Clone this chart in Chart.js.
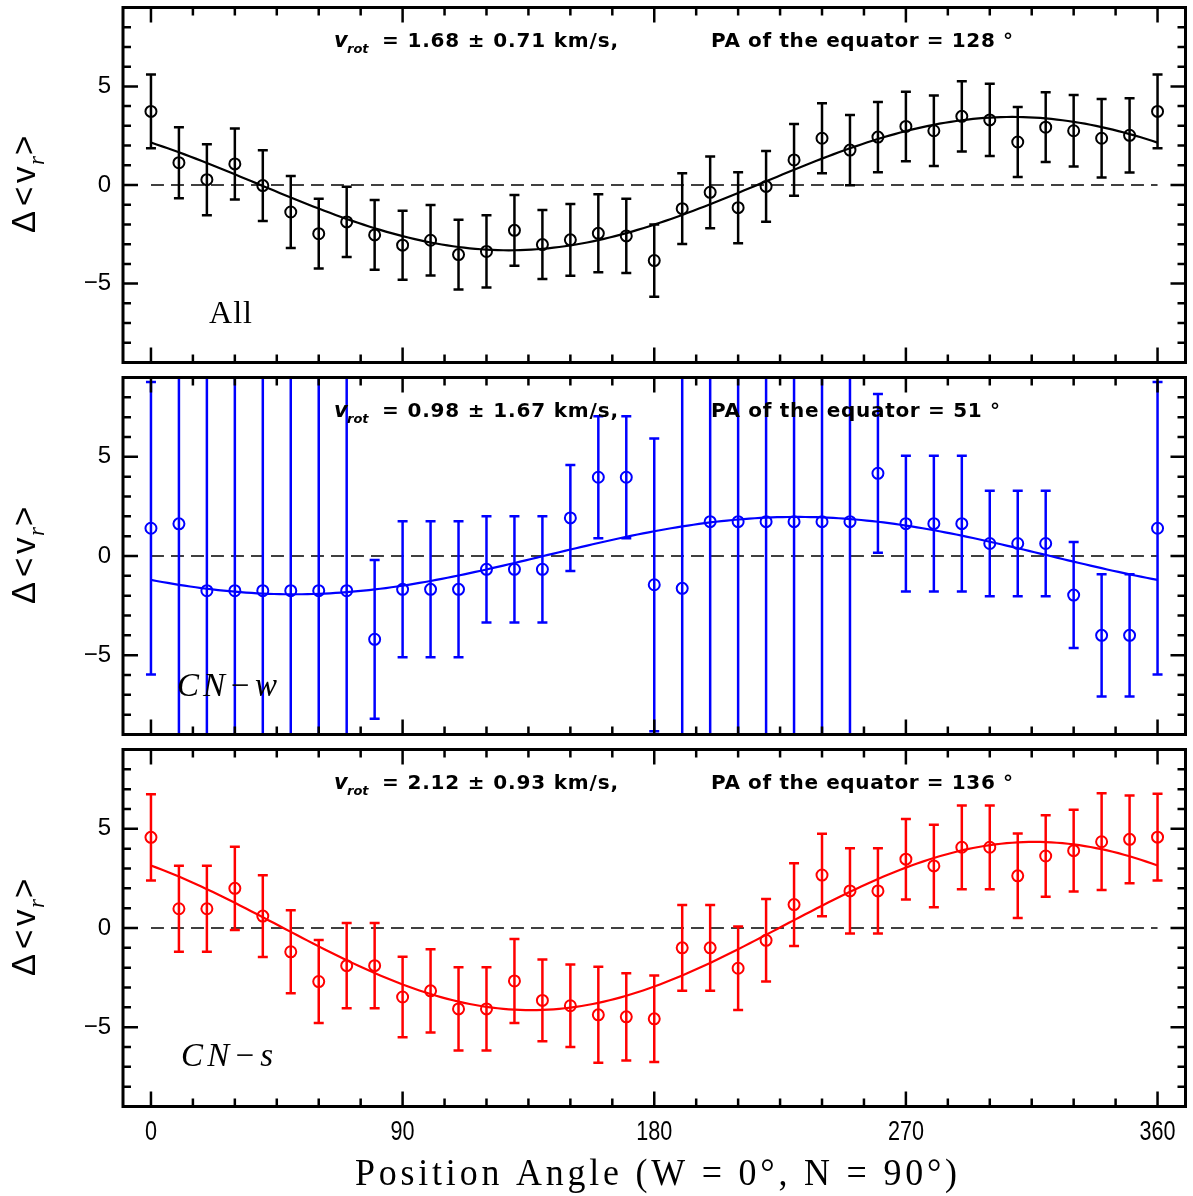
<!DOCTYPE html>
<html>
<head>
<meta charset="utf-8">
<script src="https://cdn.jsdelivr.net/npm/chart.js@4.4.0/dist/chart.umd.min.js"></script>
<style>
  html, body { margin: 0; padding: 0; background: #fff; }
  #wrap { position: relative; width: 1193px; height: 1196px; }
  .panel { position: absolute; left: 0; width: 1193px; }
</style>
</head>
<body>
<div id="wrap">
  <div class="panel" style="top:0;height:370px"><canvas id="p1"></canvas></div>
  <div class="panel" style="top:370px;height:372px"><canvas id="p2"></canvas></div>
  <div class="panel" style="top:742px;height:454px"><canvas id="p3"></canvas></div>
</div>
<script>
// position angle of each bin (deg)
const angles = [0, 10, 20, 30, 40, 50, 60, 70, 80, 90, 100, 110, 120, 130, 140, 150, 160, 170, 180,
  190, 200, 210, 220, 230, 240, 250, 260, 270, 280, 290, 300, 310, 320, 330, 340, 350, 360];

// "All" sample
const allVel = [3.73, 1.13, 0.27, 1.07, -0.03, -1.37, -2.47, -1.87, -2.53, -3.05, -2.8, -3.53, -3.37, -2.3,
  -3.02, -2.78, -2.45, -2.58, -3.83, -1.2, -0.37, -1.15, -0.07, 1.27, 2.37, 1.77, 2.43, 2.97, 2.75, 3.48,
  3.3, 2.18, 2.93, 2.75, 2.37, 2.52, 3.73];
const allErr = [1.87, 1.8, 1.8, 1.8, 1.79, 1.83, 1.77, 1.78, 1.77, 1.75, 1.79, 1.77, 1.83, 1.79, 1.75, 1.82,
  1.98, 1.88, 1.83, 1.79, 1.82, 1.8, 1.79, 1.82, 1.78, 1.78, 1.78, 1.76, 1.79, 1.78, 1.83, 1.78, 1.77, 1.81,
  1.99, 1.88, 1.87];

// CN-weak sample (error bars of 15 run off the panel)
const cnwVel = [1.4, 1.62, -1.75, -1.75, -1.75, -1.75, -1.75, -1.75, -4.2, -1.68, -1.68, -1.68, -0.67, -0.67,
  -0.67, 1.92, 3.97, 3.97, -1.45, -1.63, 1.73, 1.73, 1.73, 1.73, 1.73, 1.73, 4.17, 1.63, 1.63, 1.63, 0.63,
  0.63, 0.63, -1.97, -4.0, -4.0, 1.4];
const cnwErr = [7.37, 15, 15, 15, 15, 15, 15, 15, 4.0, 3.43, 3.43, 3.43, 2.68, 2.68, 2.68, 2.67, 3.08, 3.08,
  7.38, 15, 15, 15, 15, 15, 15, 15, 4.0, 3.42, 3.42, 3.42, 2.66, 2.66, 2.66, 2.67, 3.08, 3.08, 7.37];

// CN-strong sample
const cnsVel = [4.57, 0.97, 0.97, 2.0, 0.6, -1.2, -2.7, -1.9, -1.9, -3.48, -3.17, -4.08, -4.08, -2.67, -3.65,
  -3.92, -4.38, -4.48, -4.58, -1.0, -1.0, -2.03, -0.62, 1.18, 2.67, 1.87, 1.87, 3.47, 3.13, 4.07, 4.07, 2.63,
  3.63, 3.9, 4.35, 4.47, 4.58];
const cnsErr = [2.18, 2.17, 2.17, 2.1, 2.06, 2.09, 2.09, 2.15, 2.15, 2.03, 2.1, 2.1, 2.1, 2.12, 2.06, 2.08,
  2.42, 2.2, 2.18, 2.16, 2.16, 2.1, 2.08, 2.09, 2.08, 2.15, 2.15, 2.03, 2.08, 2.11, 2.11, 2.13, 2.06, 2.06,
  2.44, 2.21, 2.19];

// rotation fit per panel: curve = offset - amp * cos(PA - PAeq)
const fitAmp = [3.38, 1.95, 4.24];
const fitPA = [128, 51, 136];
const fitOffset = [0.07, 0.02, 0.1];

const vrotLabels = ["1.68 \u00b1 0.71", "0.98 \u00b1 1.67", "2.12 \u00b1 0.93"];
const panelNames = ["All", "CN\u2212w", "CN\u2212s"];

const xTicks = [0, 90, 180, 270, 360];
const yTicks = [-5, 0, 5];

// draw text stretched to a target width; squeeze narrows the glyphs themselves
function spaced(ctx, text, x, y, target, squeeze = 1) {
  ctx.save();
  ctx.translate(x, y);
  ctx.scale(squeeze, 1);
  const goal = target / squeeze;
  if ("letterSpacing" in ctx) ctx.letterSpacing = "0px";
  const w0 = ctx.measureText(text).width;
  const n = [...text].length;
  if ("letterSpacing" in ctx && n > 1) {
    ctx.letterSpacing = (goal - w0) / (n - 1) + "px";
    ctx.fillText(text, 0, 0);
  } else {
    ctx.scale(goal / w0, 1);
    ctx.fillText(text, 0, 0);
  }
  ctx.restore();
}

function line(ctx, x1, y1, x2, y2) {
  ctx.moveTo(x1, y1);
  ctx.lineTo(x2, y2);
}

function makeDeco(p) {
  return {
    id: "deco" + p.idx,
    beforeDatasetsDraw(chart) {
      const { ctx, chartArea: a, scales: { x, y } } = chart;
      ctx.save();
      ctx.beginPath();
      ctx.rect(a.left, a.top, a.right - a.left, a.bottom - a.top);
      ctx.clip();
      // dashed zero line
      ctx.strokeStyle = "#000";
      ctx.lineWidth = 1.6;
      ctx.setLineDash([13, 7]);
      ctx.beginPath();
      line(ctx, x.getPixelForValue(0), y.getPixelForValue(0), x.getPixelForValue(360), y.getPixelForValue(0));
      ctx.stroke();
      ctx.setLineDash([]);
      // error bars
      ctx.strokeStyle = p.color;
      ctx.lineWidth = 2.5;
      angles.forEach((pa, i) => {
        const px = x.getPixelForValue(pa);
        const hi = y.getPixelForValue(p.vel[i] + p.err[i]);
        const lo = y.getPixelForValue(p.vel[i] - p.err[i]);
        ctx.beginPath();
        line(ctx, px, hi, px, lo);
        line(ctx, px - 5, hi, px + 5, hi);
        line(ctx, px - 5, lo, px + 5, lo);
        ctx.stroke();
      });
      ctx.restore();
    },
    afterDraw(chart) {
      const { ctx, chartArea: a, scales: { x, y } } = chart;
      ctx.save();
      // ticks on all four sides, pointing inwards
      ctx.strokeStyle = "#000";
      ctx.lineWidth = 2.5;
      ctx.beginPath();
      for (let t = 0; t <= 360; t += 15) {
        const px = x.getPixelForValue(t);
        const len = t % 90 === 0 ? 15 : 8;
        line(ctx, px, a.bottom, px, a.bottom - len);
        line(ctx, px, a.top, px, a.top + len);
      }
      for (let t = -8; t <= 8; t++) {
        const py = y.getPixelForValue(t);
        const len = t % 5 === 0 ? 15 : 8;
        line(ctx, a.left, py, a.left + len, py);
        line(ctx, a.right, py, a.right - len, py);
      }
      ctx.stroke();
      ctx.lineWidth = 3;
      ctx.strokeRect(a.left, a.top, a.right - a.left, a.bottom - a.top);

      // fit results
      ctx.fillStyle = "#000";
      ctx.textAlign = "left";
      ctx.textBaseline = "alphabetic";
      const base = a.top + 39;
      ctx.font = "italic bold 21px 'DejaVu Sans'";
      ctx.fillText("v", 334, base);
      ctx.font = "italic bold 13px 'DejaVu Sans'";
      ctx.fillText("rot", 347, base + 6);
      ctx.font = "bold 20px 'DejaVu Sans'";
      spaced(ctx, "= " + vrotLabels[p.idx] + " km/s,", 382, base, 236);
      const paStr = "PA of the equator = " + fitPA[p.idx] + " \u00b0";
      spaced(ctx, paStr, 711, base, p.idx === 1 ? 289 : 302);

      // panel name
      if (p.idx === 0) {
        ctx.font = "32px 'Liberation Serif'";
        spaced(ctx, panelNames[0], 209, a.top + 315, 43);
      } else {
        ctx.font = "italic 33px 'Liberation Serif'";
        spaced(ctx, panelNames[p.idx], p.idx === 1 ? 177 : 181, a.top + (p.idx === 1 ? 318 : 316),
          p.idx === 1 ? 100 : 92);
      }

      // y axis title  Δ<v_r>
      const cy = (a.top + a.bottom) / 2;
      const tx = 35;
      const glyph = (s, font, off, dx) => {
        ctx.save();
        ctx.translate(tx + dx, cy + off);
        ctx.rotate(-Math.PI / 2);
        ctx.font = font;
        ctx.fillText(s, 0, 0);
        ctx.restore();
      };
      glyph("\u0394", "33px 'Liberation Sans'", 48, 0);
      glyph("<", "33px 'Liberation Sans'", 21, 0);
      glyph("v", "33px 'Liberation Sans'", -2, 0);
      glyph("r", "italic 23px 'Liberation Serif'", -20, 9);
      glyph(">", "33px 'Liberation Sans'", -30, 0);

      // x tick labels and title on the bottom panel
      if (p.showX) {
        ctx.font = "27px 'Liberation Sans'";
        x.ticks.forEach((t) => {
          const s = String(t.value);
          const w = ctx.measureText(s).width * 0.8;
          spaced(ctx, s, x.getPixelForValue(t.value) - w / 2, a.bottom + 33, w, 0.8);
        });
        ctx.font = "37px 'Liberation Serif'";
        spaced(ctx, "Position Angle (W = 0\u00b0, N = 90\u00b0)", 355, a.bottom + 78, 602, 0.97);
      }
      ctx.restore();
    }
  };
}

const panels = [
  { idx: 0, id: "p1", vel: allVel, err: allErr, color: "#000000", pad: { top: 3.5, bottom: 5.5 }, showX: false, xh: 0 },
  { idx: 1, id: "p2", vel: cnwVel, err: cnwErr, color: "#0000ff", pad: { top: 6, bottom: 4.5 }, showX: false, xh: 0 },
  { idx: 2, id: "p3", vel: cnsVel, err: cnsErr, color: "#ff0000", pad: { top: 3, bottom: 0 }, showX: true, xh: 89.5 }
];

panels.forEach((p) => {
  const points = angles.map((a, i) => ({ x: a, y: p.vel[i] }));
  const fit = [];
  for (let pa = 0; pa <= 360; pa += 2) {
    fit.push({ x: pa, y: fitOffset[p.idx] - fitAmp[p.idx] * Math.cos(((pa - fitPA[p.idx]) * Math.PI) / 180) });
  }
  new Chart(document.getElementById(p.id), {
    type: "scatter",
    data: {
      datasets: [
        {
          data: fit,
          showLine: true,
          borderColor: p.color,
          borderWidth: 2.2,
          pointRadius: 0,
          tension: 0
        },
        {
          data: points,
          pointStyle: "circle",
          pointRadius: 5.5,
          pointBorderWidth: 2,
          pointBorderColor: p.color,
          pointBackgroundColor: "rgba(0,0,0,0)"
        }
      ]
    },
    options: {
      responsive: true,
      maintainAspectRatio: false,
      animation: false,
      devicePixelRatio: 1,
      events: [],
      layout: { padding: { top: p.pad.top, bottom: p.pad.bottom, left: 0, right: 4 } },
      plugins: { legend: { display: false }, tooltip: { enabled: false } },
      scales: {
        x: {
          type: "linear",
          min: -10,
          max: 370,
          afterBuildTicks: (s) => { s.ticks = xTicks.map((v) => ({ value: v })); },
          afterFit: (s) => { s.height = p.xh; s.paddingLeft = 0; s.paddingRight = 0; },
          grid: { display: false },
          border: { display: false },
          ticks: { display: false }
        },
        y: {
          min: -9,
          max: 9,
          afterBuildTicks: (s) => { s.ticks = yTicks.map((v) => ({ value: v })); },
          afterFit: (s) => { s.width = 123; s.paddingTop = 0; s.paddingBottom = 0; },
          grid: { display: false },
          border: { display: false },
          ticks: {
            padding: 4,
            color: "#000",
            font: { family: "'Liberation Sans'", size: 24 },
            callback: (v) => (v < 0 ? "\u2212" + Math.abs(v) : String(v))
          }
        }
      }
    },
    plugins: [makeDeco(p)]
  });
});
</script>
</body>
</html>
